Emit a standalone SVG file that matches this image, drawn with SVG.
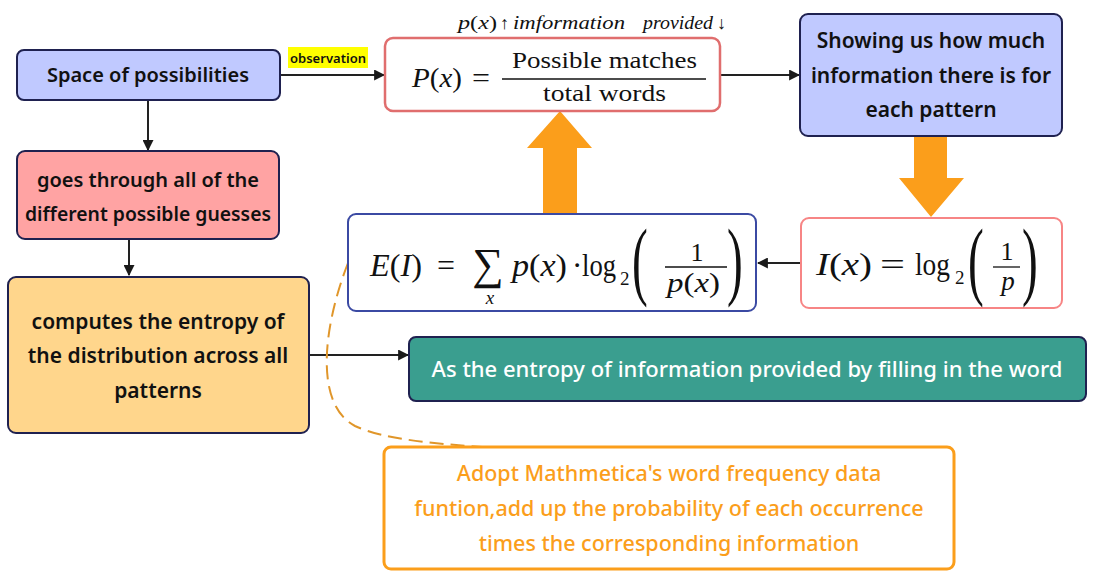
<svg xmlns="http://www.w3.org/2000/svg" width="1094" height="579" viewBox="0 0 1094 579">
<defs>
<marker id="ah" viewBox="0 0 10 10" refX="9" refY="5" markerWidth="11" markerHeight="11" markerUnits="userSpaceOnUse" orient="auto">
<path d="M0,0 L10,5 L0,10 z" fill="#1a1a1a"/>
</marker>
<style>
.hand{font-family:"Noto Sans","DejaVu Sans",sans-serif;font-size:21px;font-weight:600;text-anchor:middle;fill:#111}
.math{font-family:"Liberation Serif","DejaVu Serif",serif;fill:#111}
.it{font-style:italic}
.conn{stroke:#222;stroke-width:2;fill:none}
.big{fill:#fb9e1b}
.note{fill:#fb9e1b;font-weight:500;font-size:21.5px}
</style>
</defs>
<rect width="1094" height="579" fill="#ffffff"/>

<g id="connectors">
<path class="conn" d="M280,75 L384,75" marker-end="url(#ah)"/>
<rect x="288" y="47" width="80" height="21" fill="#ffff00"/>
<text x="328" y="63" class="hand" style="font-size:12px" textLength="76" lengthAdjust="spacingAndGlyphs">observation</text>
<path class="conn" d="M720,75 L799,75" marker-end="url(#ah)"/>
<path class="conn" d="M148,100 L148,150" marker-end="url(#ah)"/>
<path class="conn" d="M129,239 L129,275" marker-end="url(#ah)"/>
<path class="conn" d="M309,355 L408,355" marker-end="url(#ah)"/>
<path class="conn" d="M800,263 L758,263" marker-end="url(#ah)"/>
<path class="big" d="M914,137 L947,137 L947,178 L964,178 L931,217 L899,178 L914,178 z"/>
<path class="big" d="M543,213 L577,213 L577,148 L592,148 L560,111 L527,148 L543,148 z"/>
<path d="M348,263 C322,330 315,405 355,426 C385,440 440,444 482,447" fill="none" stroke="#e0962a" stroke-width="2" stroke-dasharray="14 7"/>
</g>

<g id="space">
<rect x="17" y="50" width="263" height="50" rx="7" fill="#c0c9ff" stroke="#1f2150" stroke-width="2"/>
<text x="148" y="82" class="hand" style="font-size:20px">Space of possibilities</text>
</g>

<g id="pformula">
<rect x="385" y="38" width="335" height="73" rx="8" fill="#fff" stroke="#e06e6e" stroke-width="2.5"/>
<text x="412" y="87" class="math" style="font-size:27px" textLength="50" lengthAdjust="spacingAndGlyphs"><tspan class="it">P</tspan>(<tspan class="it">x</tspan>)</text>
<text x="472" y="87" class="math" style="font-size:27px" textLength="18" lengthAdjust="spacingAndGlyphs">=</text>
<text x="512" y="68" class="math" style="font-size:23px" textLength="185" lengthAdjust="spacingAndGlyphs">Possible matches</text>
<line x1="502" y1="79" x2="706" y2="79" stroke="#111" stroke-width="1.3"/>
<text x="543" y="101" class="math" style="font-size:23px" textLength="123" lengthAdjust="spacingAndGlyphs">total words</text>
</g>

<g id="toplabel">
<text x="458" y="29" class="math" style="font-size:18px" textLength="39" lengthAdjust="spacingAndGlyphs"><tspan class="it">p</tspan>(<tspan class="it">x</tspan>)</text>
<text x="500" y="29" class="math" style="font-size:18px">↑</text>
<text x="513" y="29" class="math it" style="font-size:18px" textLength="112" lengthAdjust="spacingAndGlyphs">imformation</text>
<text x="643" y="29" class="math it" style="font-size:18px" textLength="70" lengthAdjust="spacingAndGlyphs">provided</text>
<text x="717" y="29" class="math" style="font-size:18px">↓</text>
</g>

<g id="showing">
<rect x="800" y="14" width="262" height="122" rx="8" fill="#c0c9ff" stroke="#1f2150" stroke-width="2"/>
<text x="931" y="48" class="hand">Showing us how much</text>
<text x="931" y="83" class="hand">information there is for</text>
<text x="931" y="117" class="hand">each pattern</text>
</g>

<g id="iformula">
<rect x="801" y="218" width="261" height="90" rx="8" fill="#fff" stroke="#f78585" stroke-width="2"/>
<text x="816" y="275" class="math" style="font-size:31px" textLength="56" lengthAdjust="spacingAndGlyphs"><tspan class="it">I</tspan>(<tspan class="it">x</tspan>)</text>
<text x="880" y="275" class="math" style="font-size:31px" textLength="25" lengthAdjust="spacingAndGlyphs">=</text>
<text x="915" y="275" class="math" style="font-size:31px" textLength="35" lengthAdjust="spacingAndGlyphs">log</text>
<text x="955" y="284" class="math" style="font-size:19px">2</text>
<text x="0" y="0" class="math" style="font-size:86px" transform="translate(968,289) scale(0.55,1)">(</text>
<text x="1007" y="260" class="math" style="font-size:26px" text-anchor="middle">1</text>
<line x1="993" y1="267" x2="1020" y2="267" stroke="#111" stroke-width="1.3"/>
<text x="1008" y="290" class="math it" style="font-size:27px" text-anchor="middle">p</text>
<text x="0" y="0" class="math" style="font-size:86px" transform="translate(1022,289) scale(0.55,1)">)</text>
</g>

<g id="eformula">
<rect x="348" y="214" width="408" height="97" rx="8" fill="#fff" stroke="#3b4aa3" stroke-width="2"/>
<text x="370" y="276" class="math" style="font-size:31px" textLength="52" lengthAdjust="spacingAndGlyphs"><tspan class="it">E</tspan>(<tspan class="it">I</tspan>)</text>
<text x="437" y="276" class="math" style="font-size:31px" textLength="18" lengthAdjust="spacingAndGlyphs">=</text>
<text x="488" y="279" class="math" style="font-size:44px" text-anchor="middle">∑</text>
<text x="490" y="304" class="math it" style="font-size:19px" text-anchor="middle">x</text>
<text x="512" y="276" class="math" style="font-size:31px" textLength="55" lengthAdjust="spacingAndGlyphs"><tspan class="it">p</tspan>(<tspan class="it">x</tspan>)</text>
<text x="572" y="276" class="math" style="font-size:31px">·</text>
<text x="582" y="276" class="math" style="font-size:31px" textLength="34" lengthAdjust="spacingAndGlyphs">log</text>
<text x="620" y="285" class="math" style="font-size:19px">2</text>
<text x="0" y="0" class="math" style="font-size:86px" transform="translate(632,289) scale(0.55,1)">(</text>
<text x="697" y="261" class="math" style="font-size:26px" text-anchor="middle">1</text>
<line x1="665" y1="267" x2="727" y2="267" stroke="#111" stroke-width="1.3"/>
<text x="667" y="292" class="math" style="font-size:27px" textLength="53" lengthAdjust="spacingAndGlyphs"><tspan class="it">p</tspan>(<tspan class="it">x</tspan>)</text>
<text x="0" y="0" class="math" style="font-size:86px" transform="translate(727,289) scale(0.55,1)">)</text>
</g>

<g id="goes">
<rect x="17" y="151" width="262" height="88" rx="8" fill="#ffa3a3" stroke="#1f2150" stroke-width="2"/>
<text x="148" y="187" class="hand" style="font-size:20px">goes through all of the</text>
<text x="148" y="221" class="hand" style="font-size:20px" textLength="246" lengthAdjust="spacingAndGlyphs">different possible guesses</text>
</g>

<g id="computes">
<rect x="8" y="277" width="301" height="156" rx="8" fill="#ffd68c" stroke="#1f2150" stroke-width="2"/>
<text x="158" y="329" class="hand">computes the entropy of</text>
<text x="158" y="363" class="hand">the distribution across all</text>
<text x="158" y="398" class="hand">patterns</text>
</g>

<g id="entropy">
<rect x="409" y="337" width="677" height="64" rx="7" fill="#3a9e8f" stroke="#1f2150" stroke-width="2"/>
<text x="747" y="377" class="hand" style="fill:#fff;font-weight:500;font-size:22px">As the entropy of information provided by filling in the word</text>
</g>

<g id="note">
<rect x="384" y="447" width="570" height="122" rx="7" fill="#fff" stroke="#fb9e1b" stroke-width="3"/>
<text x="669" y="481" class="hand note">Adopt Mathmetica's word frequency data</text>
<text x="669" y="516" class="hand note">funtion,add up the probability of each occurrence</text>
<text x="669" y="551" class="hand note">times the corresponding information</text>
</g>
</svg>
